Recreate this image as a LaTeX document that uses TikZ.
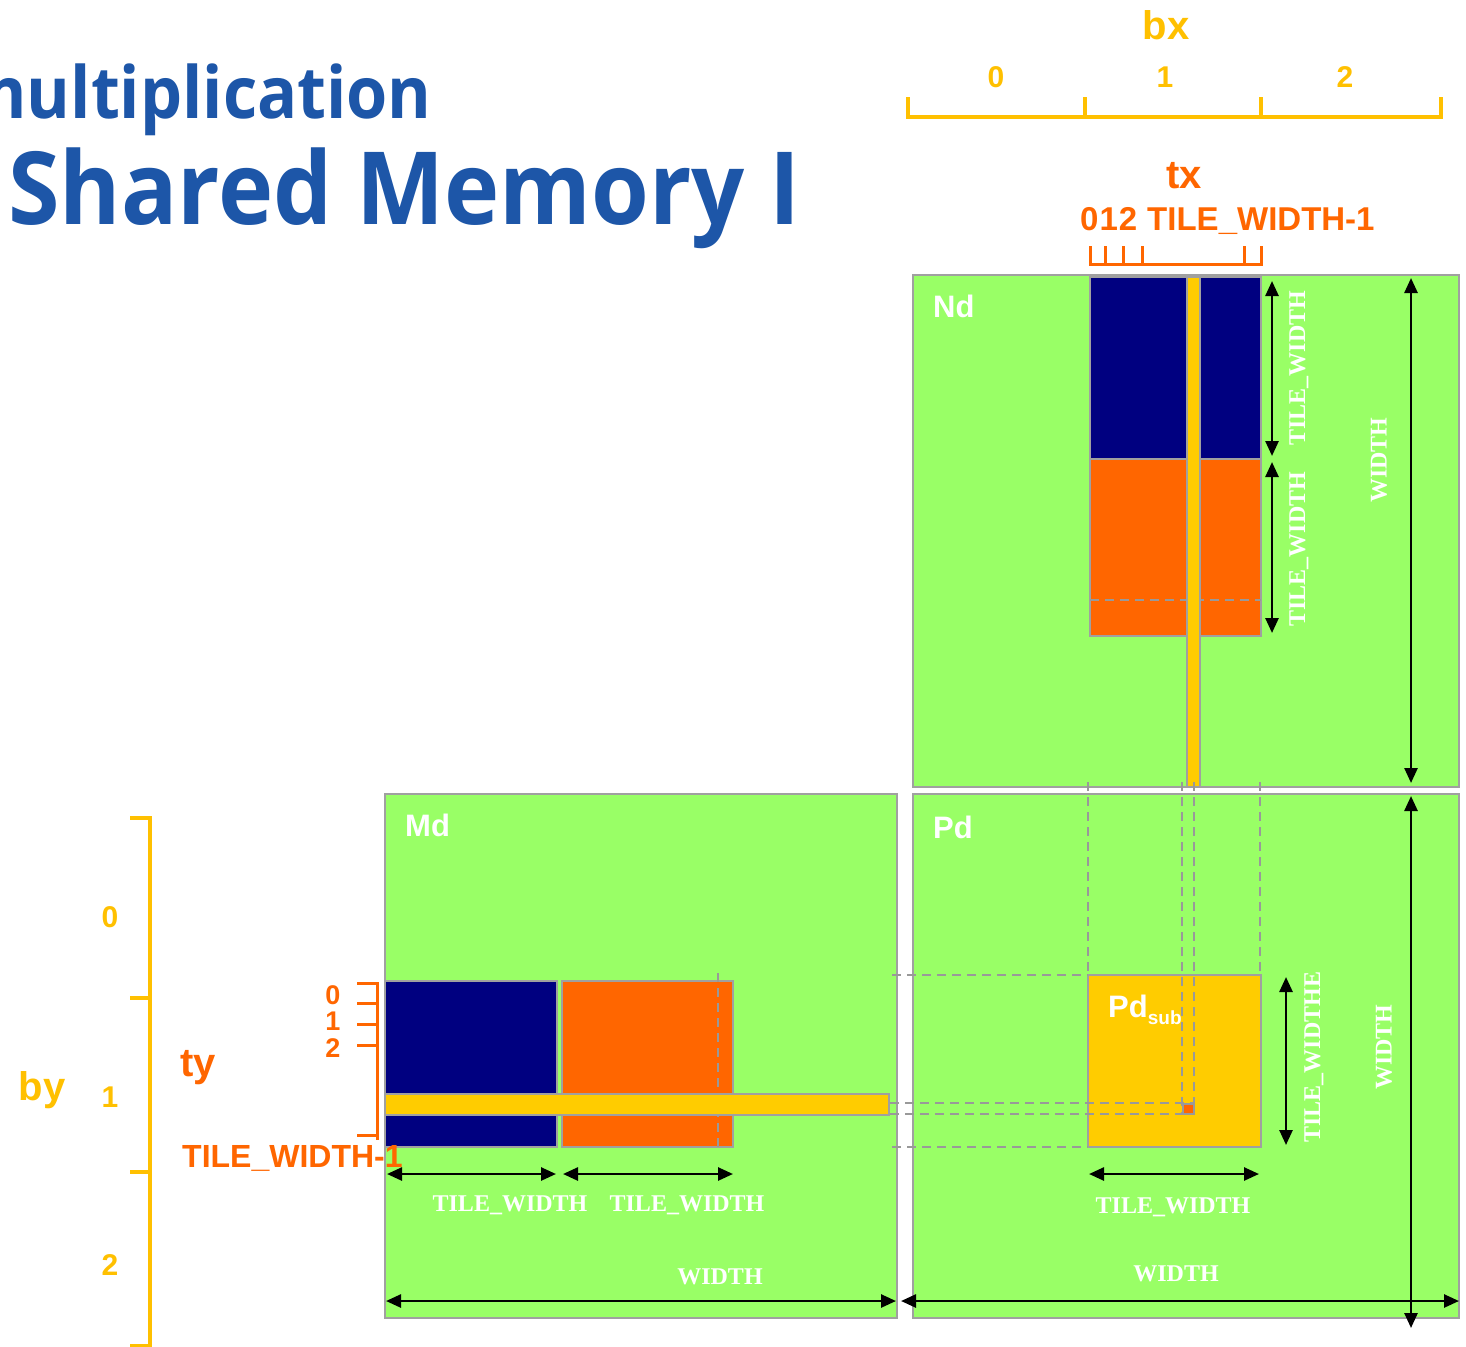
\documentclass[tikz,border=0pt]{standalone}
\usepackage{fontspec}
\setmainfont{Liberation Sans}
\newfontfamily\titlefont{Open Sans}
\newfontfamily\dimfont{Liberation Serif}
\usetikzlibrary{arrows.meta}
\definecolor{titleblue}{HTML}{1D56A8}
\definecolor{amber}{HTML}{FFC000}
\definecolor{tangerine}{HTML}{FF6600}
\definecolor{mgreen}{HTML}{99FF66}
\definecolor{navyblk}{HTML}{000080}
\definecolor{gold}{HTML}{FFCC00}
\definecolor{edgegray}{HTML}{A0A0A0}
\definecolor{guidegray}{HTML}{999999}
\begin{document}
\begin{tikzpicture}[x=1pt,y=-1pt,
  every node/.style={inner sep=0pt},
  matbox/.style={fill=mgreen,draw=edgegray,line width=2pt},
  tileblk/.style={draw=edgegray,line width=1.2pt},
  guide/.style={draw=guidegray,line width=1.8pt,dash pattern=on 9pt off 6pt},
  dimline/.style={line width=2.6pt,black,{Triangle[length=15pt,width=13pt]}-{Triangle[length=15pt,width=13pt]}},
  dimtext/.style={text=white,font=\dimfont\bfseries\fontsize{24}{24}\selectfont},
  mname/.style={text=white,font=\bfseries\fontsize{31}{31}\selectfont},
  blockruler/.style={draw=amber,line width=4pt},
  threadruler/.style={draw=tangerine,line width=3pt},
  blocklbl/.style={text=amber,font=\bfseries\fontsize{40}{40}\selectfont},
  blocknum/.style={text=amber,font=\bfseries\fontsize{30}{30}\selectfont},
  threadlbl/.style={text=tangerine,font=\bfseries\fontsize{40}{40}\selectfont},
  threadnum/.style={text=tangerine,font=\bfseries\fontsize{32}{32}\selectfont},
  tickdigit/.style={text=tangerine,font=\bfseries\fontsize{27}{27}\selectfont},
  titletext/.style={text=titleblue,xscale=0.925}
]
\useasboundingbox (0,0) rectangle (1466,1346);
\clip (0,0) rectangle (1466,1346);
\fill[white] (0,0) rectangle (1466,1346);

% ---------- title ----------
\node[titletext,anchor=base east,font=\titlefont\bfseries\fontsize{72}{72}\selectfont] (title1) at (432,118) {multiplication};
\node[titletext,anchor=base west,font=\titlefont\bfseries\fontsize{101}{101}\selectfont] (title2) at (8,224) {Shared Memory I};

% ---------- matrices ----------
\path[matbox] (913,275) rectangle (1459,787);   % Nd
\path[matbox] (913,794) rectangle (1459,1318);  % Pd
\path[matbox] (385,794) rectangle (897,1318);   % Md

% Nd tiles
\path[tileblk,fill=navyblk] (1090,277) rectangle (1261,459);
\path[tileblk,fill=tangerine] (1090,459) rectangle (1261,636);
\draw[guide] (1090,600) -- (1261,600);
\path[tileblk,fill=gold] (1187,277) rectangle (1200,787);

% Md tiles
\path[tileblk,fill=navyblk] (385,981) rectangle (557,1147);
\path[tileblk,fill=tangerine] (562,981) rectangle (733,1147);
\draw[guide] (718,973) -- (718,1147);
\path[tileblk,fill=gold] (385,1094) rectangle (889,1115);

% Pd sub-tile
\path[tileblk,fill=gold] (1088,975) rectangle (1261,1147);

% guide lines projecting the tiles onto Pd
\draw[guide] (1088,782) -- (1088,975);
\draw[guide] (1260,782) -- (1260,975);
\draw[guide] (1182,782) -- (1182,1114);
\draw[guide] (1194,782) -- (1194,1114);
\draw[guide] (892,975) -- (1088,975);
\draw[guide] (892,1147) -- (1088,1147);
\draw[guide] (890,1103) -- (1194,1103);
\draw[guide] (890,1114) -- (1194,1114);
\path[draw=guidegray,line width=1.2pt,fill=tangerine] (1183,1104) rectangle (1194,1114);

% ---------- matrix names ----------
\node[mname,anchor=west] (ndname) at (933,306) {Nd};
\node[mname,anchor=west] (mdname) at (405,825) {Md};
\node[mname,anchor=west] (pdname) at (933,827) {Pd};
\node[mname,anchor=base west] (pdsub) at (1108,1017) {Pd\raisebox{-7pt}{\fontsize{19}{19}\selectfont sub}};

% ---------- dimension arrows ----------
\coordinate (ndt1a) at (1272,281);  \coordinate (ndt1b) at (1272,456);
\coordinate (ndt2a) at (1272,462);  \coordinate (ndt2b) at (1272,633);
\coordinate (ndwa) at (1411,278);   \coordinate (ndwb) at (1411,783);
\draw[dimline] (ndt1a) -- (ndt1b);
\draw[dimline] (ndt2a) -- (ndt2b);
\draw[dimline] (ndwa) -- (ndwb);
\node[dimtext,rotate=90] (ndtw1) at (1299,368) {TILE\_WIDTH};
\node[dimtext,rotate=90] (ndtw2) at (1299,549) {TILE\_WIDTH};
\node[dimtext,rotate=90] (ndw) at (1379,460) {WIDTH};

\coordinate (mdt1a) at (387,1174);  \coordinate (mdt1b) at (556,1174);
\coordinate (mdt2a) at (563,1174);  \coordinate (mdt2b) at (733,1174);
\coordinate (mdwa) at (386,1301);   \coordinate (mdwb) at (896,1301);
\draw[dimline] (mdt1a) -- (mdt1b);
\draw[dimline] (mdt2a) -- (mdt2b);
\draw[dimline] (mdwa) -- (mdwb);
\node[dimtext] (mdtw1) at (510,1205) {TILE\_WIDTH};
\node[dimtext] (mdtw2) at (687,1205) {TILE\_WIDTH};
\node[dimtext] (mdw) at (720,1277) {WIDTH};

\coordinate (pdta) at (1286,977);   \coordinate (pdtb) at (1286,1145);
\coordinate (pdha) at (1089,1174);  \coordinate (pdhb) at (1259,1174);
\coordinate (pdwa) at (901,1301);   \coordinate (pdwb) at (1459,1301);
\coordinate (pdva) at (1411,796);   \coordinate (pdvb) at (1411,1328);
\draw[dimline] (pdta) -- (pdtb);
\draw[dimline] (pdha) -- (pdhb);
\draw[dimline] (pdwa) -- (pdwb);
\draw[dimline] (pdva) -- (pdvb);
\node[dimtext,rotate=90] (pdtw) at (1314,1057) {TILE\_WIDTHE};
\node[dimtext] (pdtwh) at (1173,1207) {TILE\_WIDTH};
\node[dimtext] (pdw) at (1176,1274) {WIDTH};
\node[dimtext,rotate=90] (pdwv) at (1384,1047) {WIDTH};

% ---------- block index rulers ----------
\draw[blockruler] (908,97) -- (908,117) -- (1441,117) -- (1441,97);
\draw[blockruler] (1085,97) -- (1085,117);
\draw[blockruler] (1261,97) -- (1261,117);
\node[blocklbl] (bx) at (1166,25) {bx};
\node[blocknum] (bx0) at (996,77) {0};
\node[blocknum] (bx1) at (1165,77) {1};
\node[blocknum] (bx2) at (1345,77) {2};

\draw[blockruler] (130,818) -- (150,818) -- (150,1350);
\draw[blockruler] (130,998) -- (150,998);
\draw[blockruler] (130,1172) -- (150,1172);
\draw[blockruler] (130,1346) -- (150,1346);
\node[blocklbl] (by) at (42,1090) {by};
\node[blocknum] (by0) at (110,917) {0};
\node[blocknum] (by1) at (110,1097) {1};
\node[blocknum] (by2) at (110,1265) {2};

% ---------- thread index rulers ----------
\draw[threadruler] (1090,246) -- (1090,264) -- (1261,264) -- (1261,246);
\draw[threadruler] (1105,246) -- (1105,264);
\draw[threadruler] (1123,246) -- (1123,264);
\draw[threadruler] (1142,246) -- (1142,264);
\draw[threadruler] (1244,246) -- (1244,264);
\node[threadlbl] (tx) at (1184,176) {tx};
\node[threadnum,anchor=west,font=\bfseries\fontsize{33}{33}\selectfont] (txnums) at (1080,221) {0\kern1pt1\kern1pt2\hspace{10pt}TILE\_WIDTH-1};

\draw[threadruler] (357,983) -- (377,983) -- (377,1140);
\draw[threadruler] (357,1003) -- (377,1003);
\draw[threadruler] (357,1024) -- (377,1024);
\draw[threadruler] (357,1045) -- (377,1045);
\draw[threadruler] (357,1135) -- (377,1135);
\node[threadlbl] (ty) at (198,1068) {ty};
\node[tickdigit] (ty0) at (333,995) {0};
\node[tickdigit] (ty1) at (333,1021) {1};
\node[tickdigit] (ty2) at (333,1048) {2};
\node[threadnum,anchor=west] (tylast) at (182,1158) {TILE\_WIDTH-1};
\end{tikzpicture}
\end{document}
